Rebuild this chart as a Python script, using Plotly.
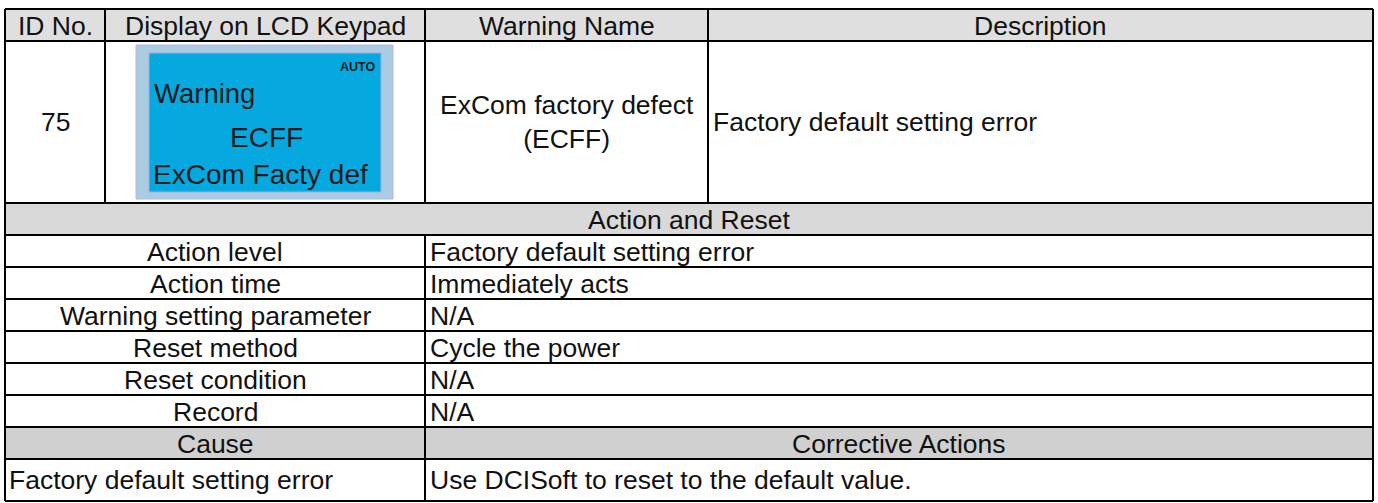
import plotly.graph_objects as go

# ---------------- data ----------------
header_labels = ["ID No.", "Display on LCD Keypad", "Warning Name", "Description"]
warning_id = "75"
lcd_mode = "AUTO"
lcd_lines = ["Warning", "ECFF", "ExCom Facty def"]
warning_name = ["ExCom factory defect", "(ECFF)"]
description = "Factory default setting error"
section_title = "Action and Reset"
action_items = ["Action level", "Action time", "Warning setting parameter",
                "Reset method", "Reset condition", "Record"]
action_values = ["Factory default setting error", "Immediately acts", "N/A",
                 "Cycle the power", "N/A", "N/A"]
cause_headers = ["Cause", "Corrective Actions"]
causes = ["Factory default setting error"]
corrective_actions = ["Use DCISoft to reset to the default value."]

# ---------------- layout constants ----------------
W, H = 1378, 503
COLS = [5, 105, 425, 708, 1373]          # column boundaries (top part)
SPLIT = 425                              # lower part split
Y_TOP = 9
Y_HEAD = 41
Y_MAIN = 203
ROW_H = 32
Y_LAST_BOTTOM = 501

FONT = "Liberation Sans, Arial, Helvetica, sans-serif"
FS = 26.5
TXT = "#111111"
LINE = "#000000"
LW = 2
HEAD_FILL = "#DFDFDF"
SECTION_FILL = "#D9D9D9"
CAUSE_FILL = "#D0D0D0"

shapes = []
annotations = []


def rect(x0, y0, x1, y1, fill, line_color=None, line_width=0):
    shapes.append(dict(type="rect", xref="x", yref="y", x0=x0, y0=y0, x1=x1, y1=y1,
                       fillcolor=fill, layer="below",
                       line=dict(color=line_color or fill, width=line_width)))


def hline(y, x0=COLS[0], x1=COLS[-1]):
    shapes.append(dict(type="line", xref="x", yref="y", x0=x0, x1=x1, y0=y, y1=y,
                       line=dict(color=LINE, width=LW)))


def vline(x, y0, y1):
    shapes.append(dict(type="line", xref="x", yref="y", x0=x, x1=x, y0=y0, y1=y1,
                       line=dict(color=LINE, width=LW)))


def text(x, y, s, anchor="center", size=FS, color=TXT, bold=False, family=FONT):
    if bold:
        s = "<b>" + s + "</b>"
    annotations.append(dict(x=x, y=y, xref="x", yref="y", text=s, showarrow=False,
                            xanchor=anchor, yanchor="middle",
                            font=dict(family=family, size=size, color=color)))


y_section = Y_MAIN + ROW_H
y_rows = [y_section + i * ROW_H for i in range(len(action_items) + 2)]

# fills
rect(COLS[0], Y_TOP, COLS[-1], Y_HEAD, HEAD_FILL)
rect(COLS[0], Y_MAIN, COLS[-1], y_section, SECTION_FILL)
cause_top = y_rows[len(action_items)]
cause_bottom = cause_top + ROW_H
rect(COLS[0], cause_top, COLS[-1], cause_bottom, CAUSE_FILL)

# header texts
for i, lab in enumerate(header_labels):
    text((COLS[i] + COLS[i + 1]) / 2, (Y_TOP + Y_HEAD) / 2 + 1, lab)

main_mid = (Y_MAIN + Y_HEAD) / 2
text((COLS[0] + COLS[1]) / 2, main_mid, warning_id)
text((COLS[2] + COLS[3]) / 2, main_mid, "<br>".join(warning_name))
text(COLS[3] + 3, main_mid, description, anchor="left")

# LCD keypad picture
lcd_outer = (136, 45, 393, 199)
lcd_inner = (149, 53, 381, 192)
rect(*lcd_outer, "#A9CCE0", "#B9B6E6", 1)
rect(*lcd_inner, "#05A9DF", "#A9A9E6", 1)
text(lcd_inner[2] - 4, 67, lcd_mode, anchor="right", size=12.5, color="#1A1A1A", bold=True)
text(lcd_inner[0] + 3, 93, lcd_lines[0], anchor="left", size=27.5, color="#1A1A1A")
text((lcd_inner[0] + lcd_inner[2]) / 2 + 1, 137, lcd_lines[1], size=28, color="#1A1A1A")
text(lcd_inner[0] + 2, 174, lcd_lines[2], anchor="left", size=28, color="#1A1A1A")

# section title
text((COLS[0] + COLS[-1]) / 2, (Y_MAIN + y_section) / 2 + 1, section_title)

# action rows
for i, (k, v) in enumerate(zip(action_items, action_values)):
    y0 = y_rows[i]
    ym = y0 + ROW_H / 2 + 1
    text((COLS[0] + SPLIT) / 2, ym, k)
    text(SPLIT + 3, ym, v, anchor="left")

# cause header row
text((COLS[0] + SPLIT) / 2, (cause_top + cause_bottom) / 2 + 1, cause_headers[0])
text((SPLIT + COLS[-1]) / 2, (cause_top + cause_bottom) / 2 + 1, cause_headers[1])

# cause rows
for c, a in zip(causes, corrective_actions):
    ym = (cause_bottom + Y_LAST_BOTTOM) / 2
    text(COLS[0] + 2, ym, c, anchor="left")
    text(SPLIT + 3, ym, a, anchor="left")

# grid lines
for y in [Y_TOP, Y_HEAD, Y_MAIN, y_section] + y_rows[1:len(action_items) + 1] + [cause_bottom, Y_LAST_BOTTOM]:
    hline(y)
vline(COLS[0], Y_TOP, Y_LAST_BOTTOM)
vline(COLS[-1], Y_TOP, Y_LAST_BOTTOM)
for x in COLS[1:-1]:
    vline(x, Y_TOP, Y_MAIN)
vline(SPLIT, y_section, Y_LAST_BOTTOM)

fig = go.Figure()
fig.update_layout(
    width=W, height=H, autosize=False,
    margin=dict(l=0, r=0, t=0, b=0),
    paper_bgcolor="white", plot_bgcolor="white",
    xaxis=dict(range=[0, W], visible=False, fixedrange=True),
    yaxis=dict(range=[H, 0], visible=False, fixedrange=True),
    shapes=shapes, annotations=annotations, showlegend=False,
)
fig.write_html("out.html", config={"displayModeBar": False},
               post_script="document.body.style.margin='0';document.body.style.overflow='hidden';")
